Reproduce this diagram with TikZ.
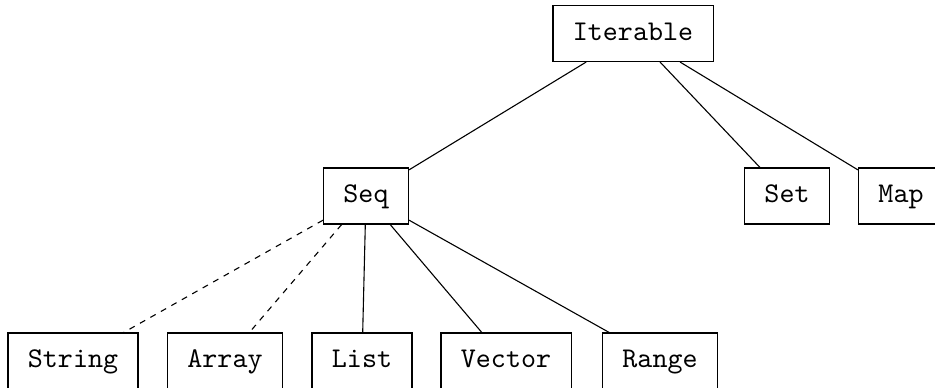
\documentclass[tikz,border=0pt]{standalone}
\usepackage{fontspec}
\newfontfamily\boxfont{lmmono10-regular}[Extension=.otf]
\begin{document}
\begin{tikzpicture}[x=0.5pt,y=-0.5pt,
  box/.style={draw, line width=0.55pt, minimum height=28pt, inner xsep=10pt, inner ysep=0pt,
    text height=9.6pt, text depth=3pt,
    font=\fontsize{14.3}{17}\selectfont\boxfont},
  edge/.style={line width=0.55pt},
  dedge/.style={line width=0.55pt, dashed}]
\useasboundingbox (0,0) rectangle (935,387);
\clip (0,0) rectangle (935,387);
\node[box] (iter) at (633,33.5) {Iterable};
\node[box] (seq) at (366,196) {Seq};
\node[box] (set) at (787,196) {Set};
\node[box] (map) at (901,196) {Map};
\node[box] (str) at (73,361) {String};
\node[box] (arr) at (225,361) {Array};
\node[box] (lst) at (362,361) {List};
\node[box] (vec) at (506,361) {Vector};
\node[box] (rng) at (660,361) {Range};
\draw[edge] (iter) -- (seq);
\draw[edge] (iter) -- (set);
\draw[edge] (iter) -- (map);
\draw[dedge] (seq) -- (str);
\draw[dedge] (seq) -- (arr);
\draw[edge] (seq) -- (lst);
\draw[edge] (seq) -- (vec);
\draw[edge] (seq) -- (rng);
\end{tikzpicture}
\end{document}
